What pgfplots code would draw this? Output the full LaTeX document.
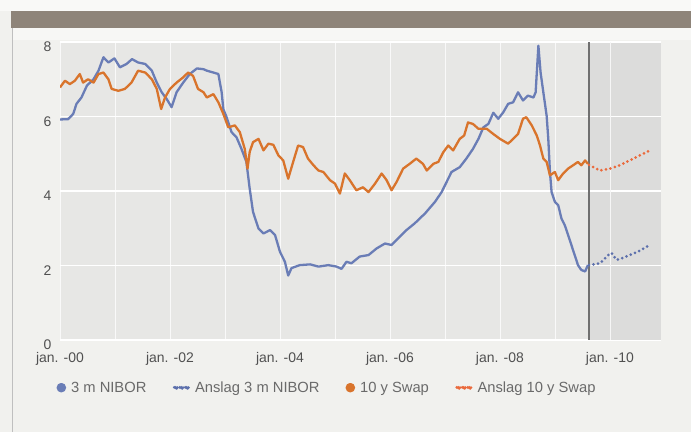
\documentclass[border=0pt]{standalone}
\usepackage{pgfplots}
\pgfplotsset{compat=1.18}
\usepackage{fontspec}
\setmainfont{Liberation Sans}

\definecolor{niborcol}{HTML}{6A7DB6}
\definecolor{niborfc}{HTML}{5D70AC}
\definecolor{swapcol}{HTML}{D9742C}
\definecolor{swapfc}{HTML}{EA6A3C}
\definecolor{pagebg}{HTML}{F1F1EE}
\definecolor{plotbg}{HTML}{E7E7E5}
\definecolor{fcbg}{HTML}{DCDCDB}
\definecolor{barcol}{HTML}{8E8479}
\definecolor{ticktext}{HTML}{505050}
\definecolor{sepline}{HTML}{707070}

\begin{document}
\begin{tikzpicture}[x=1bp,y=1bp]
% page and header bar
\fill[pagebg] (0,0) rectangle (691,432);
\fill[white!55!pagebg] (0,421) rectangle (691,432);
\fill[barcol] (11,404) rectangle (691,421);
\fill[white!40!pagebg] (13,392) rectangle (691,404);
\draw[black!25, line width=0.8bp] (12.5,0) -- (12.5,404);

\begin{axis}[
    at={(60bp,92bp)}, anchor=south west,
    scale only axis, width=601bp, height=298bp,
    xmin=2000, xmax=2010.93, ymin=0, ymax=8,
    axis background/.style={fill=plotbg},
    axis line style={draw=none},
    major tick length=0pt, minor tick length=0pt,
    tick style={draw=none},
    xtick={2000,2002,2004,2006,2008,2010},
    xticklabels={jan. -00,jan. -02,jan. -04,jan. -06,jan. -08,jan. -10},
    minor xtick={2001,2003,2005,2007,2009},
    ytick={0,2,4,6,8},
    xmajorgrids, xminorgrids, ymajorgrids,
    major x grid style={white!75!plotbg, line width=0.7bp},
    minor x grid style={white!75!plotbg, line width=0.7bp},
    major y grid style={white, line width=1.8bp},
    tick label style={font=\fontsize{14}{16}\selectfont, text=ticktext},
    /pgf/number format/assume math mode=true,
    yticklabel style={xshift=-5bp, yshift=-5bp},
    xticklabel style={yshift=-9bp},
    legend style={at={(-0.006,-0.16)}, anchor=west, draw=none, fill=none,
        inner sep=0pt, font=\fontsize{14.8}{17}\selectfont, text=ticktext!85,
        /tikz/every odd column/.append style={column sep=3bp},
        /tikz/every even column/.append style={column sep=24bp}},
    legend columns=4,
    legend cell align=left,
]

% forecast shading, with its grid lines redrawn on top
\addplot[fill=fcbg, draw=none, forget plot]
    coordinates {(2009.62,8) (2010.93,8)} \closedcycle;
\addplot[white, line width=1.8bp, forget plot] coordinates {(2009.62,2) (2010.93,2)};
\addplot[white, line width=1.8bp, forget plot] coordinates {(2009.62,4) (2010.93,4)};
\addplot[white, line width=1.8bp, forget plot] coordinates {(2009.62,6) (2010.93,6)};
\addplot[white, line width=1.8bp, forget plot] coordinates {(2009.62,8) (2010.93,8)};
\addplot[white!75!fcbg, line width=0.7bp, forget plot] coordinates {(2010,0) (2010,8)};
\addplot[sepline, line width=1.1bp, forget plot]
    coordinates {(2009.62,0) (2009.62,8)};

% 3 m NIBOR
\addplot[niborcol, line width=2.3bp, line join=round,
    legend image code/.code={\fill[niborcol] (3.6bp,0) circle (3.6bp);}]
    coordinates {
    (2000.00,5.92) (2000.15,5.93) (2000.24,6.07) (2000.30,6.34) (2000.39,6.51)
    (2000.49,6.83) (2000.61,7.00) (2000.70,7.23) (2000.79,7.59) (2000.88,7.45)
    (2000.99,7.56) (2001.09,7.32) (2001.21,7.41) (2001.31,7.54) (2001.42,7.45)
    (2001.55,7.41) (2001.67,7.23) (2001.76,6.91) (2001.85,6.65) (2001.94,6.47)
    (2002.03,6.25) (2002.12,6.65) (2002.24,6.91) (2002.36,7.14) (2002.49,7.29)
    (2002.61,7.27) (2002.67,7.23) (2002.79,7.18) (2002.88,7.14) (2002.94,6.65)
    (2002.97,6.20) (2003.03,5.98) (2003.12,5.58) (2003.21,5.44) (2003.30,5.13)
    (2003.39,4.78) (2003.45,4.06) (2003.51,3.44) (2003.61,2.99) (2003.70,2.86)
    (2003.82,2.95) (2003.91,2.82) (2004.00,2.37) (2004.09,2.10) (2004.15,1.73)
    (2004.21,1.93) (2004.36,2.01) (2004.55,2.03) (2004.70,1.97) (2004.88,2.01)
    (2005.03,1.97) (2005.12,1.91) (2005.21,2.10) (2005.30,2.06) (2005.45,2.24)
    (2005.61,2.28) (2005.76,2.46) (2005.91,2.59) (2006.03,2.55) (2006.15,2.73)
    (2006.30,2.95) (2006.45,3.13) (2006.64,3.40) (2006.82,3.71) (2006.94,3.97)
    (2007.03,4.24) (2007.12,4.51) (2007.27,4.64) (2007.39,4.87) (2007.51,5.13)
    (2007.61,5.40) (2007.70,5.71) (2007.79,5.80) (2007.88,6.10) (2007.97,5.94)
    (2008.06,6.11) (2008.15,6.34) (2008.24,6.38) (2008.33,6.65) (2008.42,6.43)
    (2008.51,6.56) (2008.61,6.51) (2008.65,6.65) (2008.70,7.90) (2008.74,7.18)
    (2008.79,6.65) (2008.85,6.02) (2008.88,5.40) (2008.91,4.51) (2008.94,3.97)
    (2009.00,3.71) (2009.06,3.62) (2009.12,3.26) (2009.18,3.08) (2009.24,2.82)
    (2009.30,2.55) (2009.36,2.28) (2009.42,2.01) (2009.48,1.88) (2009.55,1.84)
    (2009.60,2.01)
    };
\addlegendentry{3 m NIBOR}

% forecast 3 m NIBOR
\addplot[niborfc, line width=3bp, line cap=round, dash pattern=on 0pt off 4.6bp,
    legend image code/.code={\foreach \xx in {1.8,7.3,12.8} \fill[niborfc] (\xx bp,0) circle (1.8bp);}]
    coordinates {
    (2009.62,2.01) (2009.82,2.06) (2009.97,2.28) (2010.03,2.34) (2010.12,2.15)
    (2010.21,2.19) (2010.36,2.28) (2010.55,2.40) (2010.70,2.53)
    };
\addlegendentry{Anslag 3 m NIBOR}

% 10 y Swap
\addplot[swapcol, line width=2.3bp, line join=round,
    legend image code/.code={\fill[swapcol] (3.6bp,0) circle (3.6bp);}]
    coordinates {
    (2000.00,6.78) (2000.09,6.96) (2000.18,6.87) (2000.27,6.96) (2000.36,7.14)
    (2000.42,6.91) (2000.51,7.00) (2000.61,6.91) (2000.70,7.14) (2000.79,7.18)
    (2000.88,7.00) (2000.94,6.74) (2001.06,6.69) (2001.18,6.74) (2001.30,6.91)
    (2001.42,7.23) (2001.55,7.18) (2001.67,7.00) (2001.76,6.74) (2001.84,6.20)
    (2001.91,6.51) (2002.00,6.74) (2002.12,6.91) (2002.24,7.05) (2002.33,7.18)
    (2002.42,7.09) (2002.51,6.74) (2002.61,6.65) (2002.67,6.51) (2002.79,6.60)
    (2002.88,6.38) (2002.97,6.07) (2003.06,5.71) (2003.18,5.76) (2003.27,5.58)
    (2003.36,5.13) (2003.41,4.60) (2003.45,5.05) (2003.51,5.31) (2003.61,5.40)
    (2003.70,5.09) (2003.79,5.27) (2003.88,5.24) (2003.97,4.96) (2004.06,4.82)
    (2004.15,4.33) (2004.24,4.78) (2004.33,5.22) (2004.42,5.18) (2004.51,4.87)
    (2004.61,4.69) (2004.70,4.55) (2004.79,4.51) (2004.91,4.29) (2005.00,4.20)
    (2005.09,3.93) (2005.18,4.47) (2005.27,4.29) (2005.39,4.02) (2005.51,4.10)
    (2005.61,3.97) (2005.73,4.20) (2005.85,4.47) (2005.94,4.29) (2006.03,4.02)
    (2006.12,4.24) (2006.24,4.60) (2006.36,4.73) (2006.48,4.87) (2006.60,4.73)
    (2006.67,4.55) (2006.79,4.73) (2006.88,4.78) (2006.97,5.04) (2007.06,5.22)
    (2007.15,5.09) (2007.27,5.40) (2007.35,5.49) (2007.42,5.84) (2007.51,5.80)
    (2007.61,5.67) (2007.76,5.67) (2007.88,5.53) (2008.00,5.40) (2008.15,5.27)
    (2008.24,5.40) (2008.33,5.53) (2008.42,5.94) (2008.48,5.98) (2008.58,5.76)
    (2008.67,5.49) (2008.73,5.22) (2008.79,4.87) (2008.85,4.78) (2008.91,4.42)
    (2009.00,4.51) (2009.06,4.29) (2009.15,4.47) (2009.24,4.60) (2009.33,4.69)
    (2009.42,4.78) (2009.48,4.69) (2009.55,4.82) (2009.60,4.73)
    };
\addlegendentry{10 y Swap}

% forecast 10 y Swap
\addplot[swapfc, line width=3bp, line cap=round, dash pattern=on 0pt off 4.6bp,
    legend image code/.code={\foreach \xx in {1.8,7.3,12.8} \fill[swapfc] (\xx bp,0) circle (1.8bp);}]
    coordinates {
    (2009.62,4.70) (2009.82,4.55) (2010.00,4.60) (2010.18,4.69) (2010.36,4.82)
    (2010.55,4.96) (2010.70,5.07)
    };
\addlegendentry{Anslag 10 y Swap}

\end{axis}
\end{tikzpicture}
\end{document}
